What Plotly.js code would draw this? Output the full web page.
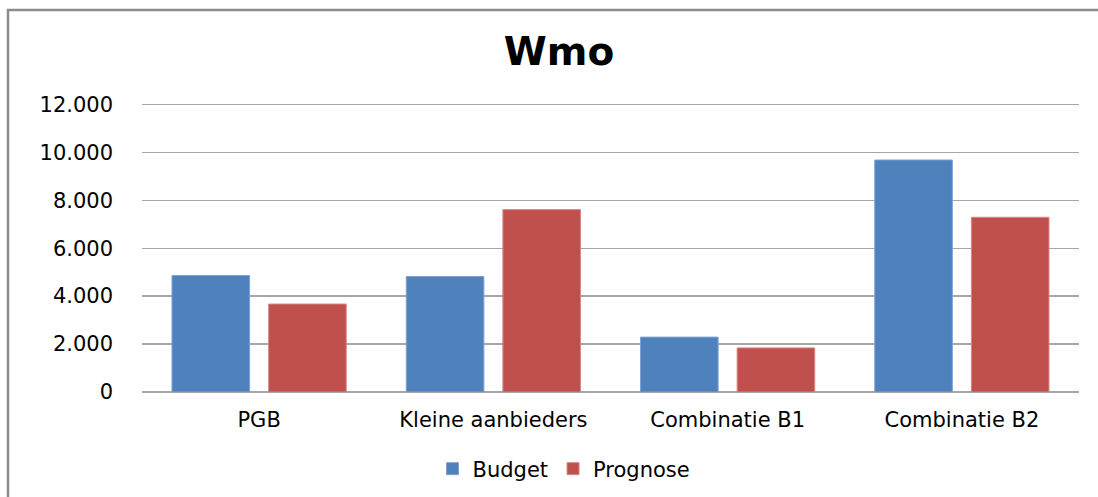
<!DOCTYPE html>
<html>
<head>
<meta charset="utf-8">
<script src="https://cdn.plot.ly/plotly-3.0.1.min.js"></script>
<style>
  html, body { margin: 0; padding: 0; background: #fff; }
  #chart { width: 1098px; height: 497px; }
</style>
</head>
<body>
<div id="chart"></div>
<script>
const categories = ["PGB", "Kleine aanbieders", "Combinatie B1", "Combinatie B2"];
const budget = [4860, 4820, 2290, 9680];
const prognose = [3670, 7610, 1840, 7290];
const seriesNames = ["Budget", "Prognose"];
const yTickVals = [0, 2000, 4000, 6000, 8000, 10000, 12000];

const W = 1098, H = 497;
const margin = { l: 142, r: 19, t: 102, b: 105 };
const pw = W - margin.l - margin.r;
const ph = H - margin.t - margin.b;
function px2x(px) { return (px - margin.l) / pw; }
function py2y(py) { return (H - margin.b - py) / ph; }

const font = "DejaVu Sans, Verdana, sans-serif";

const traces = [
  {
    type: "bar", name: seriesNames[0], x: categories, y: budget,
    marker: { color: "#4F81BD", line: { color: "#7DA2D3", width: 1 } },
    hoverinfo: "skip"
  },
  {
    type: "bar", name: seriesNames[1], x: categories, y: prognose,
    marker: { color: "#C0504D", line: { color: "#D88784", width: 1 } },
    hoverinfo: "skip"
  }
];

const layout = {
  width: W, height: H,
  margin: margin,
  paper_bgcolor: "#ffffff",
  plot_bgcolor: "#ffffff",
  separators: ",.",
  barmode: "group",
  bargap: 0.175,
  bargroupgap: 0.197,
  showlegend: true,
  title: {
    text: "<b>Wmo</b>",
    font: { family: font, size: 39, color: "#000" },
    x: 559 / W, xanchor: "center",
    y: 1 - 51 / H, yanchor: "middle",
    xref: "container", yref: "container"
  },
  xaxis: {
    type: "category",
    showgrid: false,
    showline: false,
    zeroline: false,
    ticks: "",
    ticklabelstandoff: 13,
    tickfont: { family: font, size: 21, color: "#000" }
  },
  yaxis: {
    range: [0, 12100],
    tickvals: yTickVals,
    tickformat: ",d",
    showgrid: true,
    gridcolor: "#A6A6A6",
    gridwidth: 1.3,
    zeroline: true,
    zerolinecolor: "#A6A6A6",
    zerolinewidth: 1.3,
    showline: false,
    ticks: "",
    ticklabelstandoff: 28,
    tickfont: { family: font, size: 21, color: "#000" }
  },
  legend: {
    orientation: "h",
    x: 564 / W, xanchor: "center",
    xref: "container",
    y: 1 - 469 / H, yanchor: "middle",
    yref: "container",
    font: { family: font, size: 21, color: "#000" },
    itemwidth: 30,
    traceorder: "normal"
  },
  shapes: [
    {
      type: "rect", xref: "paper", yref: "paper",
      x0: px2x(8), x1: px2x(1130), y0: py2y(530), y1: py2y(10),
      line: { color: "#8C8C8C", width: 2.5 },
      fillcolor: "rgba(0,0,0,0)",
      layer: "above"
    }
  ]
};

Plotly.newPlot("chart", traces, layout, { displayModeBar: false, staticPlot: true });
</script>
</body>
</html>
